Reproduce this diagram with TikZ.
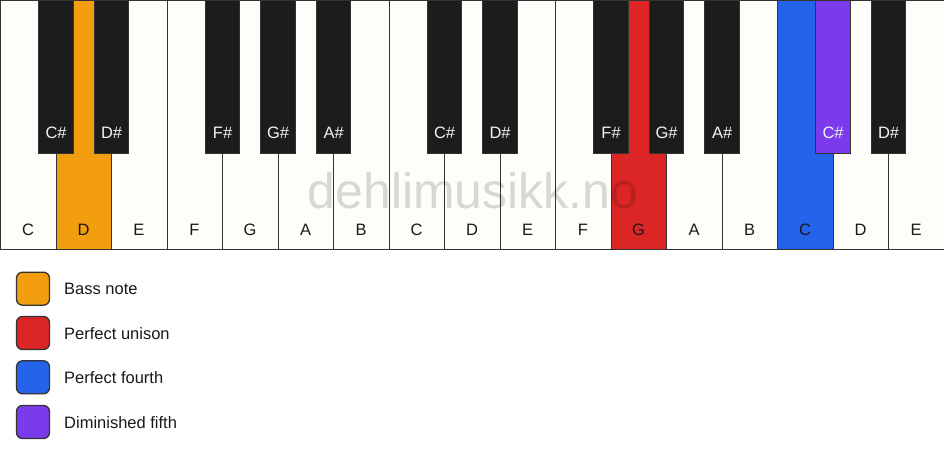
\documentclass[tikz,border=0pt]{standalone}
\usepackage{fontspec}
\setmainfont{Liberation Sans}
\definecolor{keyw}{HTML}{FFFDF9}
\definecolor{keyb}{HTML}{1C1C1C}
\definecolor{edgec}{HTML}{333333}
\definecolor{cbass}{HTML}{F39E0E}
\definecolor{cuni}{HTML}{DC2626}
\definecolor{cfourth}{HTML}{2563EB}
\definecolor{cdim}{HTML}{7C3AED}
\definecolor{blabel}{HTML}{F2F2F2}
\begin{document}
\begin{tikzpicture}[x=1pt,y=-1pt,
  font=\fontsize{16.5}{19}\selectfont,
  whitekey/.style={draw=edgec, line width=1.2pt, minimum width=55.5pt, minimum height=249pt, inner sep=0pt, outer sep=0pt, anchor=north west},
  blackkey/.style={draw=edgec, line width=1pt, minimum width=34.5pt, minimum height=153pt, inner sep=0pt, outer sep=0pt, anchor=north},
  wlabel/.style={inner sep=0pt, text=black!90},
  klabel/.style={inner sep=0pt},
  swatch/.style={draw=edgec, line width=1.3pt, rounded corners=6pt, minimum size=33pt, inner sep=0pt},
  legtext/.style={anchor=west, inner sep=0pt, text=black!90}]
\useasboundingbox (0,0) rectangle (944,461);
\fill[white] (0,0) rectangle (944,461);
% white keys
\foreach \i/\n/\c in {0/C/keyw,1/D/cbass,2/E/keyw,3/F/keyw,4/G/keyw,5/A/keyw,6/B/keyw,7/C/keyw,8/D/keyw,9/E/keyw,10/F/keyw,11/G/cuni,12/A/keyw,13/B/keyw,14/C/cfourth,15/D/keyw,16/E/keyw}{
  \node[whitekey, fill=\c] (w\i) at (\i*55.5+0.6, 0.6) {};
  \node[wlabel] (wl\i) at (\i*55.5+28, 230) {\n};
}
% black keys
\foreach \i/\n/\c in {1/C/keyb,2/D/keyb,4/F/keyb,5/G/keyb,6/A/keyb,8/C/keyb,9/D/keyb,11/F/keyb,12/G/keyb,13/A/keyb,15/C/cdim,16/D/keyb}{
  \node[blackkey, fill=\c] (b\i) at (\i*55.5+0.6, 0.6) {};
  \node[klabel, text=blabel] (bl\i) at (\i*55.5+0.6, 133) {\n\#};
}
% watermark
\node[anchor=base, inner sep=0pt, text=black, text opacity=0.15, font=\fontsize{50}{60}\selectfont] (wm) at (473,208) {dehlimusikk.no};
% legend
\node[swatch, fill=cbass] (s1) at (33,288.7) {};
\node[legtext] (t1) at (64,289) {Bass note};
\node[swatch, fill=cuni] (s2) at (33,333) {};
\node[legtext] (t2) at (64,333.3) {Perfect unison};
\node[swatch, fill=cfourth] (s3) at (33,377.3) {};
\node[legtext] (t3) at (64,377.6) {Perfect fourth};
\node[swatch, fill=cdim] (s4) at (33,422) {};
\node[legtext] (t4) at (64,422.3) {Diminished fifth};
\end{tikzpicture}
\end{document}
